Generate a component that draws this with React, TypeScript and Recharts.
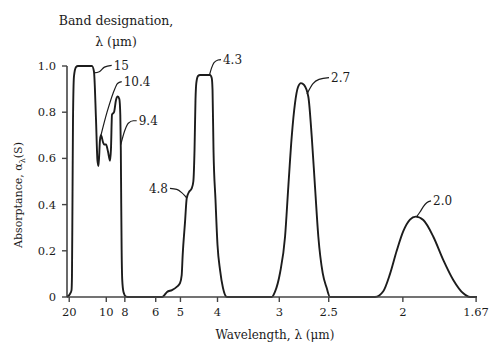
import React from 'react';
import {
  LineChart,
  Line,
  XAxis,
  YAxis,
  ReferenceLine,
  ReferenceDot,
  Customized,
} from 'recharts';

// Absorptance of the CO2 bands, plotted against wavenumber (cm^-1) so that the
// wavelength axis reads in reciprocal spacing.
const WAVENUMBER = [
  470, 510, 531, 537, 544, 551, 564, 591, 618, 807, 834, 861, 881, 895, 915, 929,
  956, 969, 996, 1023, 1050, 1063, 1077, 1104, 1131, 1154, 1176, 1189, 1196, 1201,
  1207, 1215, 1232, 1266, 1306, 1740, 1765, 1819, 1886, 1954, 1994, 2017, 2030,
  2062, 2085, 2116, 2152, 2174, 2190, 2203, 2214, 2237, 2264, 2331, 2398, 2422,
  2433, 2446, 2473, 2500, 2534, 2574, 2628, 3231, 3276, 3343, 3411, 3455, 3501,
  3545, 3586, 3626, 3667, 3725, 3771, 3815, 3860, 3919, 3973, 4017, 4624, 4736,
  4827, 4917, 5006, 5096, 5173, 5276, 5411, 5546, 5680, 5815, 5906, 6000,
];
const ABSORPTANCE = [
  0, 0.013, 0.03, 0.09, 0.42, 0.77, 0.955, 0.995, 1.0, 1.0, 0.975, 0.77, 0.59, 0.567,
  0.68, 0.7, 0.67, 0.66, 0.66, 0.63, 0.59, 0.64, 0.79, 0.8, 0.853, 0.868, 0.857,
  0.788, 0.636, 0.42, 0.203, 0.074, 0.022, 0.002, 0, 0, 0.002, 0.022, 0.03, 0.045,
  0.06, 0.095, 0.18, 0.325, 0.428, 0.455, 0.47, 0.5, 0.636, 0.853, 0.926, 0.957,
  0.961, 0.961, 0.961, 0.948, 0.896, 0.636, 0.42, 0.225, 0.117, 0.039, 0, 0, 0.023,
  0.104, 0.261, 0.477, 0.694, 0.838, 0.909, 0.926, 0.918, 0.867, 0.694, 0.477,
  0.261, 0.103, 0.039, 0, 0, 0.025, 0.1, 0.2, 0.285, 0.335, 0.348, 0.333, 0.261,
  0.16, 0.074, 0.016, 0, 0,
];

// Wavelength ticks (µm) and their printed labels
const TICK_WAVELENGTHS = [20, 10, 8, 6, 5, 4, 3, 2.5, 2, 1.67];
const TICK_LABELS = ['20', '10', '8', '6', '5', '4', '3', '2.5', '2', '1.67'];
const Y_TICKS = [0, 0.2, 0.4, 0.6, 0.8, 1.0];

// Band designations with their leader lines
const BAND_NAMES = ['15', '10.4', '9.4', '4.8', '4.3', '2.7', '2.0'];
const LEADER_NU = [
  [834, 905, 975, 1073],
  [920, 1010, 1117, 1151, 1208],
  [1195, 1252, 1297, 1364, 1410],
  [1859, 1950, 2017, 2055, 2085],
  [2392, 2419, 2453, 2507, 2547],
  [3707, 3788, 3869, 4004],
  [5186, 5231, 5276, 5322, 5380],
];
const LEADER_A = [
  [0.97, 0.975, 0.995, 1.003],
  [0.69, 0.8, 0.903, 0.924, 0.932],
  [0.66, 0.723, 0.752, 0.763, 0.763],
  [0.47, 0.466, 0.452, 0.44, 0.428],
  [0.961, 0.991, 1.015, 1.026, 1.028],
  [0.879, 0.924, 0.942, 0.95],
  [0.348, 0.368, 0.391, 0.408, 0.416],
];
// label sits after the last point, except 4.8 which sits before the first
const LABEL_LEFT = [false, false, false, true, false, false, false];

const SERIF = '"DejaVu Serif", serif';
const INK = '#1c1c1c';
const AXIS = '#444444';

const spectrum = WAVENUMBER.map((nu, i) => ({ nu, a: ABSORPTANCE[i] }));
const leaders = BAND_NAMES.map((name, k) => ({
  name,
  points: LEADER_NU[k].map((nu, i) => ({ nu, a: LEADER_A[k][i] })),
  left: LABEL_LEFT[k],
}));
const tickPositions = TICK_WAVELENGTHS.map((l) => 10000 / l);

const formatWavelength = (v: number) => {
  let best = 0;
  tickPositions.forEach((p, i) => {
    if (Math.abs(p - v) < Math.abs(tickPositions[best] - v)) best = i;
  });
  return TICK_LABELS[best];
};

const Captions = () => (
  <g fontFamily={SERIF} fill={INK}>
    <text x={116} y={25} textAnchor="middle" fontSize={12.5}>
      Band designation,
    </text>
    <text x={116} y={45.5} textAnchor="middle" fontSize={12.5}>
      λ (μm)
    </text>
    <text x={275} y={339} textAnchor="middle" fontSize={12}>
      Wavelength, λ (μm)
    </text>
    <text transform="translate(22,195) rotate(-90)" textAnchor="middle" fontSize={11}>
      Absorptance, α
      <tspan dy={3} fontSize={8}>
        λ
      </tspan>
      <tspan dy={-3}>(S)</tspan>
    </text>
  </g>
);

export default function App() {
  return (
    <div style={{ position: 'absolute', left: 0, top: 0 }}>
      <LineChart
        width={493}
        height={343}
        margin={{ top: 19.8, right: 16, bottom: 16, left: 7 }}
      >
        <XAxis
          dataKey="nu"
          type="number"
          domain={[470, 6000]}
          ticks={tickPositions}
          tickFormatter={formatWavelength}
          allowDuplicatedCategory={false}
          height={30}
          tickSize={5}
          tickMargin={6}
          axisLine={{ stroke: AXIS, strokeWidth: 1.6 }}
          tickLine={{ stroke: AXIS, strokeWidth: 1.4 }}
          tick={{ fill: INK, fontSize: 11.5, fontFamily: SERIF }}
        />
        <YAxis
          dataKey="a"
          type="number"
          domain={[0, 1.2]}
          ticks={Y_TICKS}
          tickFormatter={(v: number) => (v === 0 ? '0' : v.toFixed(1))}
          width={60}
          tickSize={5}
          tickMargin={6}
          axisLine={false}
          tickLine={{ stroke: AXIS, strokeWidth: 1.4 }}
          tick={{ fill: INK, fontSize: 11.5, fontFamily: SERIF }}
        />
        <ReferenceLine
          segment={[
            { x: 470, y: 0 },
            { x: 470, y: 1 },
          ]}
          stroke={AXIS}
          strokeWidth={1.6}
        />
        <Line
          data={spectrum}
          dataKey="a"
          type="monotone"
          stroke={INK}
          strokeWidth={1.9}
          dot={false}
          activeDot={false}
          isAnimationActive={false}
        />
        {leaders.map((l) => (
          <Line
            key={`leader-${l.name}`}
            data={l.points}
            dataKey="a"
            type="monotone"
            stroke={INK}
            strokeWidth={1.2}
            dot={false}
            activeDot={false}
            isAnimationActive={false}
          />
        ))}
        {leaders.map((l) => {
          const p = l.left ? l.points[0] : l.points[l.points.length - 1];
          return (
            <ReferenceDot
              key={`label-${l.name}`}
              x={p.nu}
              y={p.a}
              r={0}
              fill="none"
              stroke="none"
              label={{
                value: l.name,
                position: l.left ? 'left' : 'right',
                offset: 2,
                fill: INK,
                fontSize: 12,
                fontFamily: SERIF,
              }}
            />
          );
        })}
        <Customized component={Captions} />
      </LineChart>
    </div>
  );
}
